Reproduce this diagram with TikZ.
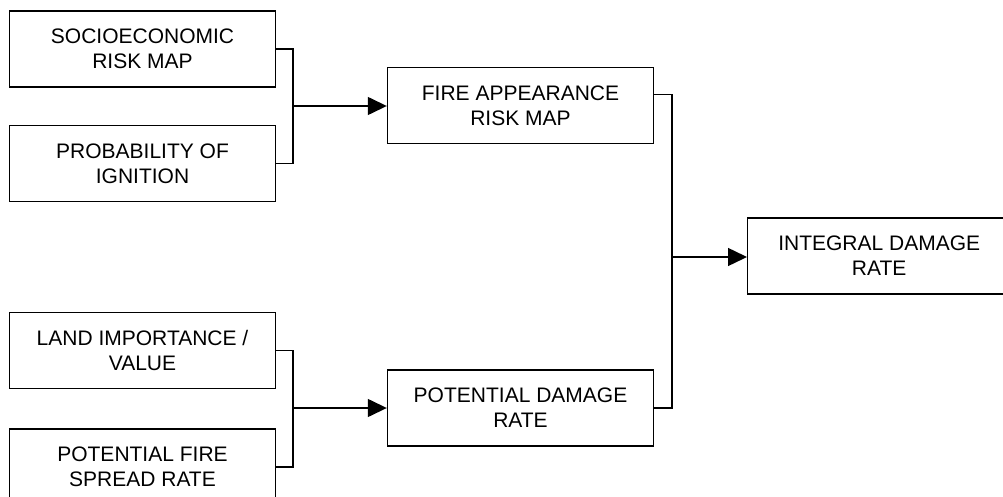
\documentclass[tikz,border=0pt]{standalone}
\usepackage{fontspec}
\setmainfont{Liberation Sans}
\usetikzlibrary{arrows.meta,positioning}
\tikzset{
  stagebox/.style={
    rectangle, draw=black, line width=1.4pt,
    minimum width=266pt, minimum height=76pt,
    font=\fontsize{21}{25}\selectfont, align=center,
    inner sep=0pt
  },
  joinline/.style={line width=1.4pt},
  flowarrow/.style={
    -{Triangle[length=19pt,width=18pt]}, line width=1.4pt
  },
}

\begin{document}
\begin{tikzpicture}[x=1pt,y=-1pt]
\useasboundingbox (0,0) rectangle (1003,497);

% Inputs on the left
\node[stagebox] (socio) at (142.5,49) {SOCIOECONOMIC\\RISK MAP};
\node[stagebox, below=37pt of socio] (ignit) {PROBABILITY OF\\IGNITION};
\node[stagebox] (land) at (142.5,350.5) {LAND IMPORTANCE /\\VALUE};
\node[stagebox, below=39pt of land] (spread) {POTENTIAL FIRE\\SPREAD RATE};

% Middle and result boxes
\node[stagebox] (fire) at (520.5,105.5) {FIRE APPEARANCE\\RISK MAP};
\node[stagebox] (potdam) at (520.5,408) {POTENTIAL DAMAGE\\RATE};
\node[stagebox, minimum width=263pt, anchor=west] (integ) at (747,256) {INTEGRAL DAMAGE\\RATE};

% Junction points
\coordinate (j1) at (293,106);
\coordinate (j2) at (293,408);
\coordinate (j3) at (672,257);

% Brackets and arrows
\draw[joinline] (socio.east) -| (j1) |- (ignit.east);
\draw[flowarrow] (j1) -- (j1 -| fire.west);
\draw[joinline] (land.east) -| (j2) |- (spread.east);
\draw[flowarrow] (j2) -- (j2 -| potdam.west);
\draw[joinline] ([yshift=11pt]fire.east) -| (j3) |- (potdam.east);
\draw[flowarrow] (j3) -- (j3 -| integ.west);

\end{tikzpicture}
\end{document}
